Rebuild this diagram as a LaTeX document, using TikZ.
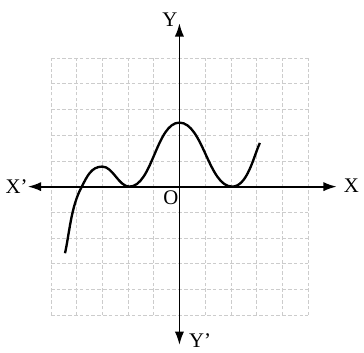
\documentclass[tikz,border=0pt]{standalone}
\usepackage{fontspec}
\setmainfont{Liberation Serif}
\usetikzlibrary{arrows.meta}
\begin{document}
\begin{tikzpicture}[>={Latex[length=2.6mm,width=1.8mm]}, scale=0.5,
    gridline/.style={gray!40, line width=0.35pt, dash pattern=on 2pt off 1.2pt},
    axis/.style={<->, line width=1pt},
    curve/.style={line width=1.3pt},
    lbl/.style={font=\fontsize{11.5}{13}\selectfont, inner sep=0pt}]
    \useasboundingbox (-6.98,-6.47) rectangle (7.18,7.26);

    % 网格
    \draw[gridline] (-5,-5) grid (5,5);

    % 坐标轴
    \coordinate (xl) at (-5.9,0);
    \coordinate (xr) at (6.12,0);
    \coordinate (yt) at (0,6.36);
    \coordinate (yb) at (0,-6.16);
    \draw[axis] (xl) -- (xr);
    \draw[axis] (yb) -- (yt);

    % 标注
    \node[lbl] (Xp) at (-6.33,0) {X'};
    \node[lbl] (X) at (6.69,0.05) {X};
    \node[lbl] (Y) at (-0.37,6.48) {Y};
    \node[lbl] (Yp) at (0.8,-5.98) {Y'};
    \node[lbl] (O) at (-0.33,-0.42) {O};

    % 曲线
    \draw[curve] (-4.45,-2.59) to[out=78,in=-118,looseness=0.85] (-3.8,0)
        to[out=62,in=180] (-3,0.78)
        to[out=0,in=180,looseness=0.8] (-1.95,0)
        to[out=0,in=180,looseness=0.72] (0,2.49)
        to[out=0,in=180,looseness=0.72] (2.05,0)
        to[out=0,in=-115,looseness=0.75] (3.13,1.7);

\end{tikzpicture}
\end{document}
